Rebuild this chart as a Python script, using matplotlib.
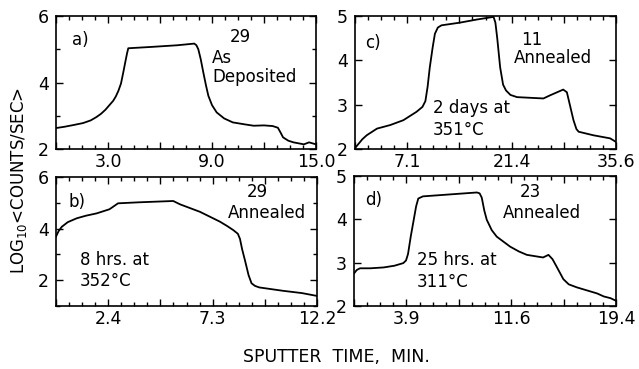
"""
Four-panel SIMS-style depth profiles: log10 counts/sec vs sputter time.
"""

import matplotlib
matplotlib.use("Agg")
import matplotlib.pyplot as plt
from matplotlib.ticker import FixedLocator, FuncFormatter

plt.rcParams.update({
    "font.family": "DejaVu Sans",
    "font.size": 12,
})

# ── Panel data (time in min, log10 counts/sec) ───────────────────────
t_a = [0, 0.5, 1.0, 1.56, 2.0, 2.33, 2.6, 2.85, 3.1, 3.3, 3.45, 3.6, 3.75, 3.88, 4.0,
       4.1, 4.17, 5.5, 7.0, 7.98, 8.1, 8.21, 8.35, 8.5, 8.65, 8.79, 9.0, 9.27, 9.7,
       10.2, 10.9, 11.4, 12.0, 12.5, 12.8, 12.95, 13.1, 13.4, 13.7, 14.3, 14.6, 15.0]
v_a = [2.63, 2.67, 2.72, 2.78, 2.86, 2.96, 3.06, 3.18, 3.33, 3.45, 3.58, 3.75, 3.97,
       4.3, 4.62, 4.88, 5.03, 5.07, 5.12, 5.17, 5.12, 5.0, 4.7, 4.3, 3.92, 3.6, 3.32,
       3.1, 2.92, 2.8, 2.74, 2.7, 2.71, 2.69, 2.64, 2.5, 2.35, 2.25, 2.2, 2.14, 2.2, 2.14]

t_b = [0, 0.12, 0.27, 0.55, 0.97, 1.4, 1.9, 2.5, 2.9, 3.9, 5.48, 5.8, 6.73, 7.66,
       8.0, 8.29, 8.5, 8.6, 8.7, 8.83, 9.0, 9.14, 9.3, 9.5, 10.6, 11.5, 12.2]
v_b = [3.69, 3.9, 4.07, 4.25, 4.4, 4.5, 4.59, 4.75, 4.98, 5.02, 5.07, 4.94, 4.65, 4.27,
       4.1, 3.94, 3.8, 3.6, 3.2, 2.78, 2.2, 1.88, 1.78, 1.72, 1.59, 1.5, 1.39]

t_c = [0, 0.5, 1.0, 1.6, 3.0, 4.8, 6.6, 8.4, 9.2, 9.6, 9.9, 10.2, 10.6, 10.9, 11.3,
       11.8, 14.3, 16.6, 18.9, 19.15, 19.4, 19.8, 20.2, 20.6, 21.2, 22.1, 25.7, 26.6,
       28.4, 28.9, 29.3, 29.8, 30.2, 30.5, 32.5, 34.8, 35.6]
v_c = [2.02, 2.12, 2.22, 2.31, 2.46, 2.54, 2.65, 2.84, 2.95, 3.08, 3.4, 3.84, 4.3, 4.6,
       4.74, 4.79, 4.85, 4.92, 4.98, 4.85, 4.5, 3.84, 3.45, 3.32, 3.22, 3.17, 3.14, 3.21,
       3.34, 3.28, 3.0, 2.65, 2.45, 2.39, 2.31, 2.24, 2.16]

t_d = [0, 0.2, 0.44, 1.2, 2.2, 3.0, 3.65, 3.85, 4.0, 4.2, 4.4, 4.6, 4.76, 5.1, 9.1,
       9.3, 9.46, 9.65, 9.83, 10.2, 10.57, 11.56, 12.2, 12.8, 14.0, 14.4, 14.7, 15.0,
       15.5, 15.9, 16.5, 18.0, 18.5, 19.0, 19.4]
v_d = [2.75, 2.83, 2.87, 2.87, 2.89, 2.93, 2.99, 3.05, 3.2, 3.6, 3.95, 4.3, 4.48, 4.53,
       4.62, 4.6, 4.5, 4.2, 3.99, 3.75, 3.6, 3.37, 3.26, 3.18, 3.12, 3.18, 3.08, 2.91,
       2.62, 2.5, 2.43, 2.29, 2.22, 2.18, 2.12]

x_max = [15.0, 12.2, 35.6, 19.4]
y_lim = [(2, 6), (1, 6), (2, 5), (2, 5)]
y_labels = [[2, 4, 6], [2, 4, 6], [2, 3, 4, 5], [2, 3, 4, 5]]

W, H = 639, 369
boxes = [
    (56, 16, 316, 149),   # a
    (56, 177, 317, 306),  # b
    (355, 16, 616, 149),  # c
    (354, 176, 616, 306), # d
]

fig = plt.figure(figsize=(W / 100, H / 100), dpi=100, facecolor="white")

series = [(t_a, v_a), (t_b, v_b), (t_c, v_c), (t_d, v_d)]
for (x0, y0, x1, y1), (t, v), xm, yl, ylab in zip(boxes, series, x_max, y_lim, y_labels):
    ax = fig.add_axes([x0 / W, 1 - y1 / H, (x1 - x0) / W, (y1 - y0) / H])
    ax.plot(t, v, color="black", lw=1.3, solid_joinstyle="round")
    ax.set_xlim(0, xm)
    ax.set_ylim(*yl)

    ax.xaxis.set_major_locator(FixedLocator([xm * i / 5 for i in range(6)]))
    ax.xaxis.set_minor_locator(FixedLocator([xm * i / 20 for i in range(21)]))
    ax.xaxis.set_major_formatter(FuncFormatter(
        lambda val, pos: f"{val:.1f}" if pos in (1, 3, 5) else ""))

    ax.yaxis.set_major_locator(FixedLocator(ylab))
    ax.yaxis.set_minor_locator(FixedLocator(list(range(yl[0], yl[1] + 1))))
    ax.yaxis.set_major_formatter(FuncFormatter(lambda val, pos: f"{val:.0f}"))

    ax.tick_params(which="both", direction="in", top=True, right=True,
                   width=1.0, labelsize=12.5)
    ax.tick_params(which="major", length=5, pad=3)
    ax.tick_params(which="minor", length=3)
    ax.tick_params(axis="y", which="major", pad=5)
    for s in ax.spines.values():
        s.set_linewidth(1.2)

# ── Panel annotations (placed in pixel coords of the reference) ─────
def px(x, y):
    return x / W, 1 - y / H

notes = [
    ("a)", 72, 40, "left"), ("29", 240, 37, "center"),
    ("As", 212, 58, "left"), ("Deposited", 212, 77, "left"),
    ("b)", 68, 202, "left"), ("29", 257, 192, "center"),
    ("Annealed", 267, 213, "center"),
    ("8 hrs. at", 80, 260, "left"), ("352°C", 80, 281, "left"),
    ("c)", 365, 43, "left"), ("11", 532, 40, "center"),
    ("Annealed", 553, 58, "center"),
    ("2 days at", 433, 108, "left"), ("351°C", 433, 130, "left"),
    ("d)", 365, 200, "left"), ("23", 530, 192, "center"),
    ("Annealed", 542, 213, "center"),
    ("25 hrs. at", 417, 260, "left"), ("311°C", 417, 282, "left"),
]
for text, x, y, ha in notes:
    fig.text(*px(x, y), text, ha=ha, va="center", fontsize=12)

fig.text(*px(19, 180), r"LOG$_{10}$<COUNTS/SEC>", rotation=90,
         ha="center", va="center", fontsize=12)
fig.text(*px(336, 357), "SPUTTER  TIME,  MIN.", ha="center", va="center",
         fontsize=12.5)

plt.savefig("out.png", dpi=100, facecolor="white")
